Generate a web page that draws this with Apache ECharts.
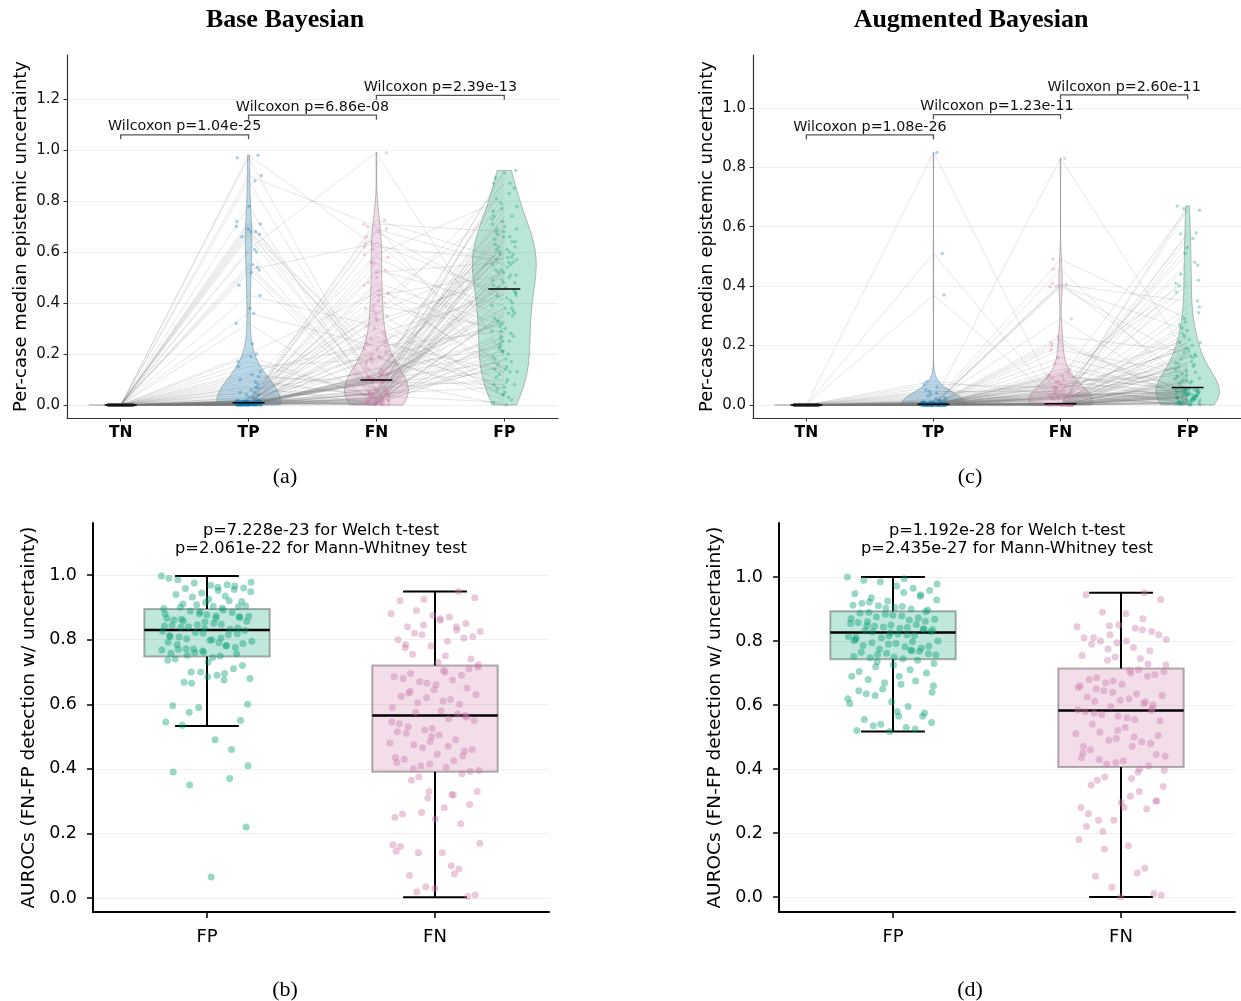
<!DOCTYPE html>
<html>
<head>
<meta charset="utf-8">
<script src="https://cdn.jsdelivr.net/npm/echarts@6.0.0/dist/echarts.min.js"></script>
<style>
  html, body { margin: 0; padding: 0; background: #fff; }
  #main { width: 1241px; height: 1001px; }
</style>
</head>
<body>
<div id="main"></div>
<script>
var topCats = ['TN', 'TP', 'FN', 'FP'];
var boxCats = ['FP', 'FN'];

// (a) Base Bayesian - per-case median epistemic uncertainty, index = case
var baseTN = [
  0,0,0,0,0,0,0,0,0,0,0,0,0,0,0,0,0,0,0,0,
  0,0,0,0,0,0,0,0,0,0,0,0,0,0,0,0,0,0,0,0,
  0,0,0,0,0,0,0,0,0,0,0,0,0,0,0,0,0,0,0,0,
  0,0,0,0,0,0,0,0,0,0,0,0,0,0,0,0,0,0,0,0,
  0,0,0,0,0,0,0,0,0,0,0,0,0,0,0,0,0,0,0,0,
  0,0,0,0,0,0,0,0,0,0,0,0,0,0,0,0,0,0,0,0
];
var baseTP = [
  0.002, 0.68, 0.010, 0.000, 0.12, 0.004, 0.98, 0.001, 0.015, 0.05, 0.003, 0.71,
  0.006, 0.000, 0.20, 0.012, 0.002, 0.55, 0.008, 0.001, 0.03, 0.018, 0.000, 0.005,
  0.90, 0.004, 0.011, 0.07, 0.002, 0.000, 0.36, 0.009, 0.014, 0.001, 0.10, 0.003,
  0.006, 0.70, 0.000, 0.016, 0.04, 0.002, 0.008, 0.61, 0.001, 0.013, 0.19, 0.005,
  0.000, 0.02, 0.97, 0.003, 0.007, 0.53, 0.011, 0.000, 0.09, 0.004, 0.017, 0.002,
  0.66, 0.001, 0.006, 0.15, 0.000, 0.012, 0.43, 0.003, 0.008, 0.025, 0.000, 0.72,
  0.005, 0.002, 0.11, 0.014, 0.001, 0.88, 0.009, 0.000, 0.06, 0.004, 0.54, 0.010,
  0.003, 0.017, 0.000, 0.67, 0.007, 0.05, 0.002, 0.013, 0.32, 0.001, 0.006, 0.08,
  0.69, 0.000, 0.004, 0.012, 0.13, 0.002, 0.009, 0.60, 0.001, 0.015, 0.03, 0.000,
  0.006, 0.78, 0.003, 0.07, 0.011, 0.000, 0.52, 0.005, 0.018, 0.002, 0.17, 0.008,
  0.001, 0.004, 0.38, 0.000, 0.014, 0.04, 0.007, 0.24, 0.002, 0.010, 0.000, 0.47,
  0.003, 0.016, 0.006, 0.68, 0.001, 0.012, 0.000, 0.005, 0.009, 0.002, 0.019, 0.007
];
var baseFN = [
  0.045, 0.21, 0.012, 0.48, 0.070, 0.003, 0.62, 0.095, 0.030, 0.058, 0.34, 0.17,
  0.008, 0.105, 0.44, 0.021, 0.11, 0.052, 0.001, 0.27, 0.14, 0.64, 0.125, 0.016,
  0.70, 0.026, 0.093, 0.005, 0.19, 0.048, 0.23, 0.36, 0.010, 0.12, 0.034, 0.58,
  0.060, 0.14, 0.002, 0.30, 0.042, 0.088, 0.018, 0.99, 0.52, 0.105, 0.025, 0.37,
  0.013, 0.45, 0.054, 0.25, 0.004, 0.635, 0.096, 0.10, 0.036, 0.22, 0.019, 0.090,
  0.050, 0.47, 0.007, 0.18, 0.118, 0.026, 0.31, 0.115, 0.044, 0.000, 0.68, 0.108,
  0.725, 0.031, 0.092, 0.015, 0.26, 0.056, 0.33, 0.009, 0.13, 0.39, 0.038, 0.098,
  0.022, 0.53, 0.066, 0.16, 0.003, 0.20, 0.046, 0.087, 0.011, 0.28, 0.102, 0.59,
  0.035, 0.11, 0.69, 0.006, 0.24, 0.091, 0.089, 0.017, 0.43, 0.040, 0.40, 0.028,
  0.145, 0.001, 0.185, 0.35, 0.049, 0.10, 0.014, 0.557, 0.71, 0.12, 0.032, 0.21,
  0.005, 0.66, 0.099, 0.17, 0.024, 0.41, 0.053, 0.094, 0.008, 0.22, 0.122, 0.56,
  0.042, 0.50, 0.019, 0.098, 0.61, 0.036, 0.19, 0.002, 0.27, 0.057, 0.38, 0.020
];
var baseFP = [
  0.52, 0.08, 0.66, 0.31, 0.44, 0.18, 0.57, 0.74, 0.25, 0.49, 0.03, 0.62,
  0.36, 0.91, 0.14, 0.55, 0.27, 0.69, 0.42, 0.06, 0.59, 0.21, 0.47, 0.83,
  0.12, 0.64, 0.38, 0.53, 0.02, 0.77, 0.29, 0.58, 0.16, 0.45, 0.68, 0.34,
  0.87, 0.23, 0.51, 0.09, 0.61, 0.40, 0.72, 0.19, 0.56, 0.33, 0.48, 0.05,
  0.63, 0.28, 0.79, 0.13, 0.54, 0.43, 0.37, 0.66, 0.01, 0.60, 0.24, 0.92,
  0.46, 0.11, 0.58, 0.32, 0.71, 0.20, 0.52, 0.85, 0.07, 0.65, 0.41, 0.26,
  0.57, 0.15, 0.69, 0.35, 0.04, 0.76, 0.50, 0.22, 0.62, 0.30, 0.89, 0.17,
  0.53, 0.39, 0.10, 0.67, 0.27, 0.48, 0.74, 0.13, 0.59, 0.43, 0.00, 0.81,
  0.64, 0.21, 0.55, 0.36, 0.46, 0.08, 0.70, 0.18, 0.51, 0.29, 0.78, 0.61,
  0.33, 0.56, 0.04, 0.87, 0.25, 0.60, 0.44, 0.14, 0.68, 0.38, 0.49, 0.73
];
var baseTests = ['Wilcoxon p=1.04e-25', 'Wilcoxon p=6.86e-08', 'Wilcoxon p=2.39e-13'];

// (c) Augmented Bayesian
var augTN = [
  0,0,0,0,0,0,0,0,0,0,0,0,0,0,0,0,0,0,0,0,
  0,0,0,0,0,0,0,0,0,0,0,0,0,0,0,0,0,0,0,0,
  0,0,0,0,0,0,0,0,0,0,0,0,0,0,0,0,0,0,0,0,
  0,0,0,0,0,0,0,0,0,0,0,0,0,0,0,0,0,0,0,0,
  0,0,0,0,0,0,0,0,0,0,0,0,0,0,0,0,0,0,0,0,
  0,0,0,0,0,0,0,0,0,0,0,0,0,0,0,0,0,0,0,0
];
var augTP = [
  0.002, 0.000, 0.006, 0.001, 0.85, 0.004, 0.000, 0.010, 0.003, 0.000, 0.045, 0.001,
  0.000, 0.005, 0.002, 0.000, 0.008, 0.001, 0.030, 0.000, 0.003, 0.012, 0.000, 0.002,
  0.004, 0.000, 0.001, 0.51, 0.000, 0.007, 0.002, 0.000, 0.015, 0.001, 0.000, 0.005,
  0.000, 0.003, 0.060, 0.000, 0.002, 0.009, 0.000, 0.001, 0.004, 0.000, 0.020, 0.000,
  0.006, 0.000, 0.002, 0.001, 0.000, 0.37, 0.003, 0.000, 0.011, 0.000, 0.001, 0.040,
  0.000, 0.002, 0.000, 0.005, 0.001, 0.000, 0.025, 0.003, 0.000, 0.002, 0.008, 0.000,
  0.001, 0.000, 0.004, 0.000, 0.070, 0.002, 0.000, 0.006, 0.001, 0.000, 0.003, 0.000,
  0.000, 0.014, 0.002, 0.000, 0.001, 0.005, 0.000, 0.035, 0.002, 0.000, 0.004, 0.001,
  0.003, 0.000, 0.001, 0.009, 0.000, 0.002, 0.050, 0.000, 0.001, 0.006, 0.000, 0.002,
  0.000, 0.004, 0.000, 0.018, 0.001, 0.000, 0.003, 0.080, 0.000, 0.002, 0.007, 0.000
];
var augFN = [
  0.002, 0.000, 0.035, 0.41, 0.001, 0.080, 0.002, 0.020, 0.14, 0.001, 0.045, 0.003,
  0.003, 0.060, 0.000, 0.001, 0.49, 0.028, 0.004, 0.10, 0.001, 0.038, 0.002, 0.000,
  0.022, 0.000, 0.23, 0.000, 0.050, 0.003, 0.002, 0.070, 0.002, 0.000, 0.40, 0.031,
  0.001, 0.090, 0.002, 0.026, 0.000, 0.83, 0.004, 0.042, 0.001, 0.185, 0.003, 0.055,
  0.000, 0.019, 0.457, 0.001, 0.033, 0.001, 0.065, 0.002, 0.29, 0.000, 0.024, 0.000,
  0.075, 0.002, 0.040, 0.000, 0.12, 0.003, 0.001, 0.405, 0.003, 0.048, 0.000, 0.018,
  0.002, 0.22, 0.001, 0.030, 0.058, 0.000, 0.000, 0.004, 0.11, 0.027, 0.002, 0.085,
  0.036, 0.000, 0.001, 0.398, 0.002, 0.044, 0.001, 0.068, 0.000, 0.021, 0.16, 0.003,
  0.000, 0.052, 0.002, 0.002, 0.21, 0.025, 0.000, 0.001, 0.095, 0.003, 0.105, 0.004,
  0.029, 0.001, 0.078, 0.000, 0.003, 0.20, 0.000, 0.034, 0.10, 0.002, 0.062, 0.000
];
var augFP = [
  0.030, 0.67, 0.012, 0.085, 0.045, 0.22, 0.004, 0.11, 0.038, 0.41, 0.020, 0.26,
  0.052, 0.008, 0.14, 0.026, 0.29, 0.001, 0.075, 0.047, 0.58, 0.016, 0.098, 0.034,
  0.24, 0.040, 0.18, 0.010, 0.48, 0.055, 0.12, 0.003, 0.078, 0.029, 0.25, 0.044,
  0.018, 0.66, 0.090, 0.036, 0.006, 0.165, 0.050, 0.38, 0.022, 0.105, 0.041, 0.19,
  0.013, 0.135, 0.048, 0.21, 0.000, 0.44, 0.032, 0.082, 0.024, 0.56, 0.058, 0.009,
  0.043, 0.27, 0.019, 0.28, 0.053, 0.145, 0.002, 0.35, 0.037, 0.095, 0.027, 0.175,
  0.655, 0.015, 0.060, 0.046, 0.115, 0.005, 0.20, 0.031, 0.42, 0.054, 0.072, 0.021,
  0.039, 0.088, 0.011, 0.155, 0.049, 0.53, 0.025, 0.13, 0.007, 0.33, 0.056, 0.21,
  0.028, 0.19, 0.042, 0.080, 0.014, 0.47, 0.035, 0.125, 0.051, 0.23, 0.017, 0.165,
  0.575, 0.033, 0.10, 0.023, 0.16, 0.044, 0.31, 0.001, 0.40, 0.17, 0.51, 0.14
];
var augTests = ['Wilcoxon p=1.08e-26', 'Wilcoxon p=1.23e-11', 'Wilcoxon p=2.60e-11'];

// (b) Base Bayesian - AUROCs (FN-FP detection w/ uncertainty)
var baseAurocFP = [
  0.997, 0.962, 0.910, 0.870, 0.835, 0.812, 0.780, 0.700, 0.600, 0.745,
  0.985, 0.955, 0.880, 0.842, 0.805, 0.772, 0.720, 0.685, 0.595, 0.920,
  0.975, 0.948, 0.866, 0.838, 0.818, 0.765, 0.736, 0.675, 0.575, 0.905,
  0.968, 0.940, 0.884, 0.846, 0.826, 0.790, 0.668, 0.550, 0.915, 0.758,
  0.970, 0.932, 0.872, 0.851, 0.808, 0.776, 0.700, 0.545, 0.898, 0.752,
  0.960, 0.925, 0.861, 0.832, 0.822, 0.795, 0.690, 0.535, 0.902, 0.762,
  0.990, 0.935, 0.889, 0.857, 0.800, 0.785, 0.710, 0.590, 0.896, 0.749,
  0.958, 0.918, 0.877, 0.844, 0.815, 0.771, 0.680, 0.490, 0.900, 0.756,
  0.944, 0.866, 0.892, 0.840, 0.828, 0.798, 0.740, 0.460, 0.908, 0.768,
  0.952, 0.858, 0.869, 0.855, 0.810, 0.782, 0.665, 0.410, 0.903, 0.770,
  0.966, 0.886, 0.880, 0.848, 0.803, 0.788, 0.730, 0.390, 0.370, 0.760,
  0.978, 0.874, 0.863, 0.836, 0.820, 0.792, 0.695, 0.350, 0.220, 0.065
];
var baseAurocFN = [
  0.949, 0.845, 0.170, 0.700, 0.640, 0.560, 0.500, 0.420, 0.320, 0.140,
  0.930, 0.860, 0.775, 0.690, 0.620, 0.545, 0.470, 0.400, 0.290, 0.030,
  0.920, 0.840, 0.265, 0.715, 0.610, 0.530, 0.455, 0.415, 0.250, 0.100,
  0.890, 0.810, 0.730, 0.680, 0.600, 0.520, 0.480, 0.405, 0.365, 0.005,
  0.875, 0.800, 0.075, 0.670, 0.630, 0.580, 0.510, 0.440, 0.310, 0.165,
  0.870, 0.820, 0.740, 0.660, 0.625, 0.570, 0.465, 0.395, 0.280, 0.070,
  0.850, 0.780, 0.145, 0.675, 0.605, 0.550, 0.505, 0.430, 0.230, 0.035,
  0.880, 0.795, 0.755, 0.710, 0.645, 0.540, 0.490, 0.410, 0.330, 0.140,
  0.840, 0.805, 0.330, 0.685, 0.615, 0.575, 0.460, 0.445, 0.260, 0.090,
  0.925, 0.825, 0.750, 0.695, 0.650, 0.525, 0.515, 0.425, 0.375, 0.010,
  0.865, 0.785, 0.385, 0.665, 0.590, 0.555, 0.475, 0.392, 0.245, 0.160,
  0.830, 0.815, 0.722, 0.705, 0.635, 0.565, 0.485, 0.435, 0.320, 0.020
];
// box stats: [lower whisker, Q1, median, Q3, upper whisker]
var baseBoxFP = [0.533, 0.748, 0.830, 0.895, 0.997];
var baseBoxFN = [0.003, 0.391, 0.565, 0.720, 0.949];
var baseBoxText = ['p=7.228e-23 for Welch t-test', 'p=2.061e-22 for Mann-Whitney test'];

// (d) Augmented Bayesian - AUROCs
var augAurocFP = [
  1.000, 0.952, 0.890, 0.862, 0.826, 0.805, 0.770, 0.735, 0.660, 0.565,
  0.990, 0.940, 0.884, 0.855, 0.820, 0.795, 0.760, 0.725, 0.645, 0.525,
  0.985, 0.928, 0.878, 0.848, 0.838, 0.790, 0.752, 0.710, 0.630, 0.545,
  0.972, 0.918, 0.872, 0.844, 0.814, 0.782, 0.748, 0.700, 0.610, 0.520,
  0.965, 0.910, 0.868, 0.840, 0.832, 0.778, 0.762, 0.690, 0.595, 0.535,
  0.958, 0.905, 0.888, 0.852, 0.810, 0.800, 0.745, 0.680, 0.575, 0.517,
  0.948, 0.900, 0.875, 0.835, 0.822, 0.786, 0.768, 0.670, 0.605, 0.530,
  0.935, 0.897, 0.881, 0.858, 0.817, 0.775, 0.756, 0.665, 0.635, 0.565,
  0.925, 0.912, 0.866, 0.846, 0.830, 0.792, 0.765, 0.740, 0.650, 0.620,
  0.995, 0.922, 0.892, 0.850, 0.812, 0.798, 0.758, 0.730, 0.690, 0.555,
  0.945, 0.903, 0.870, 0.842, 0.828, 0.784, 0.750, 0.705, 0.675, 0.540,
  0.978, 0.908, 0.860, 0.837, 0.816, 0.802, 0.772, 0.720, 0.640, 0.580
];
var augAurocFN = [
  0.951, 0.848, 0.725, 0.700, 0.650, 0.590, 0.520, 0.450, 0.330, 0.150,
  0.930, 0.885, 0.350, 0.690, 0.640, 0.585, 0.500, 0.430, 0.300, 0.000,
  0.945, 0.835, 0.740, 0.705, 0.620, 0.575, 0.480, 0.420, 0.280, 0.075,
  0.890, 0.820, 0.280, 0.680, 0.610, 0.595, 0.510, 0.470, 0.365, 0.010,
  0.850, 0.810, 0.745, 0.670, 0.630, 0.560, 0.540, 0.410, 0.240, 0.180,
  0.840, 0.800, 0.300, 0.665, 0.625, 0.605, 0.490, 0.440, 0.315, 0.065,
  0.830, 0.795, 0.755, 0.710, 0.645, 0.550, 0.530, 0.460, 0.275, 0.030,
  0.845, 0.780, 0.240, 0.695, 0.615, 0.580, 0.485, 0.415, 0.345, 0.160,
  0.810, 0.770, 0.750, 0.660, 0.635, 0.570, 0.505, 0.425, 0.260, 0.090,
  0.820, 0.805, 0.370, 0.685, 0.600, 0.565, 0.470, 0.400, 0.375, 0.005,
  0.800, 0.790, 0.728, 0.675, 0.655, 0.555, 0.515, 0.445, 0.295, 0.220,
  0.870, 0.775, 0.395, 0.708, 0.612, 0.583, 0.495, 0.435, 0.390, 0.205
];
var augBoxFP = [0.517, 0.743, 0.827, 0.893, 1.000];
var augBoxFN = [0.000, 0.406, 0.583, 0.714, 0.951];
var augBoxText = ['p=1.192e-28 for Welch t-test', 'p=2.435e-27 for Mann-Whitney test'];

// ---------- styling / layout ----------
var topColors = ['#555555', '#0072B2', '#CC79A7', '#009E73'];
var boxColors = ['#009E73', '#CC79A7'];
var FONT = 'DejaVu Sans';
var SERIF = 'Liberation Serif';

function rgba(hex, a) {
  var n = parseInt(hex.slice(1), 16);
  return 'rgba(' + (n >> 16) + ',' + ((n >> 8) & 255) + ',' + (n & 255) + ',' + a + ')';
}
function median(v) {
  var s = v.slice().sort(function (a, b) { return a - b; });
  var m = s.length >> 1;
  return s.length % 2 ? s[m] : (s[m - 1] + s[m]) / 2;
}
// deterministic strip jitter in [-0.5, 0.5)
function jit(i) { return ((i * 0.6180339887) % 1) - 0.5; }

// gaussian KDE (scott bandwidth), cut at data range, scaled to max = 1
function kdeProfile(vals) {
  var n = vals.length;
  var mean = vals.reduce(function (a, b) { return a + b; }, 0) / n;
  var sd = Math.sqrt(vals.reduce(function (a, b) { return a + (b - mean) * (b - mean); }, 0) / (n - 1));
  if (sd === 0) return null;
  var bw = sd * Math.pow(n, -0.2);
  var lo = Math.min.apply(null, vals), hi = Math.max.apply(null, vals);
  var out = [], dmax = 0;
  for (var k = 0; k <= 120; k++) {
    var y = lo + (hi - lo) * k / 120, d = 0;
    for (var i = 0; i < n; i++) { var z = (y - vals[i]) / bw; d += Math.exp(-0.5 * z * z); }
    out.push([y, d]);
    if (d > dmax) dmax = d;
  }
  return out.map(function (p) { return [p[0], p[1] / dmax]; });
}

var grids = [
  { left: 67, top: 55, width: 491, height: 363 },
  { left: 753, top: 55, width: 488, height: 363 },
  { left: 93, top: 523, width: 456, height: 389 },
  { left: 779, top: 523, width: 456, height: 389 }
];
var yRanges = [[-0.051, 1.373], [-0.044, 1.178], [-0.043, 1.161], [-0.047, 1.169]];
var topTicks = [[0, 0.2, 0.4, 0.6, 0.8, 1.0, 1.2], [0, 0.2, 0.4, 0.6, 0.8, 1.0]];
var botTicks = [0, 0.2, 0.4, 0.6, 0.8, 1.0];

var xAxes = [], yAxes = [], series = [];

function topPanel(g, groups, tests, levels) {
  xAxes.push({
    type: 'value', gridIndex: g, min: -0.42, max: 3.42,
    axisLine: { onZero: false, lineStyle: { color: '#333', width: 1.2 } },
    axisTick: { customValues: [0, 1, 2, 3], length: 3.5, lineStyle: { color: '#333' } },
    axisLabel: { customValues: [0, 1, 2, 3], margin: 7, fontFamily: FONT, fontSize: 15.5, fontWeight: 'bold', color: '#000',
      formatter: function (v) { return topCats[Math.round(v)]; } },
    splitLine: { show: false }
  });
  yAxes.push({
    type: 'value', gridIndex: g, min: yRanges[g][0], max: yRanges[g][1],
    name: 'Per-case median epistemic uncertainty', nameLocation: 'middle', nameGap: 37,
    nameTextStyle: { fontFamily: FONT, fontSize: 18, color: '#000' },
    axisLine: { show: true, onZero: false, lineStyle: { color: '#333', width: 1.2 } },
    axisTick: { show: true, customValues: topTicks[g], length: 3.5, lineStyle: { color: '#333' } },
    axisLabel: { customValues: topTicks[g], margin: 7, fontFamily: FONT, fontSize: 15, color: '#111',
      formatter: function (v) { return v.toFixed(1); } },
    splitLine: { show: true, lineStyle: { color: '#efefef', width: 1 } }
  });
  var profiles = groups.map(kdeProfile);

  // violins
  series.push({
    type: 'custom', xAxisIndex: g, yAxisIndex: g, silent: true, z: 1,
    data: [[0, 0], [1, 0], [2, 0], [3, 0]],
    renderItem: function (params, api) {
      var k = params.dataIndex, prof = profiles[k];
      if (!prof) {
        var a = api.coord([k - 0.25, groups[k][0]]), b = api.coord([k + 0.25, groups[k][0]]);
        return { type: 'line', shape: { x1: a[0], y1: a[1], x2: b[0], y2: b[1] },
          style: { stroke: 'rgba(90,90,90,0.6)', lineWidth: 1 } };
      }
      var pts = [];
      for (var j = 0; j < prof.length; j++) pts.push(api.coord([k + 0.25 * prof[j][1], prof[j][0]]));
      for (j = prof.length - 1; j >= 0; j--) pts.push(api.coord([k - 0.25 * prof[j][1], prof[j][0]]));
      return { type: 'polygon', shape: { points: pts },
        style: { fill: rgba(topColors[k], 0.27), stroke: 'rgba(80,80,80,0.45)', lineWidth: 0.8 } };
    }
  });

  // paired per-case lines
  var cases = groups[0].map(function (_, i) { return [groups[0][i], groups[1][i], groups[2][i], groups[3][i]]; });
  series.push({
    type: 'custom', xAxisIndex: g, yAxisIndex: g, silent: true, z: 2,
    data: cases,
    renderItem: function (params, api) {
      var pts = [0, 1, 2, 3].map(function (k) { return api.coord([k, api.value(k)]); });
      return { type: 'polyline', shape: { points: pts },
        style: { stroke: 'rgba(120,120,120,0.24)', lineWidth: 0.8, fill: null } };
    }
  });

  // strip points
  groups.forEach(function (vals, k) {
    series.push({
      type: 'scatter', xAxisIndex: g, yAxisIndex: g, silent: true, z: 3,
      symbolSize: 3.5,
      itemStyle: { color: rgba(topColors[k], 0.4) },
      data: vals.map(function (v, i) { return [k + 0.2 * jit(i + 31 * k), v]; })
    });
  });

  // medians
  var meds = groups.map(median);
  series.push({
    type: 'custom', xAxisIndex: g, yAxisIndex: g, silent: true, z: 4,
    data: meds.map(function (m, k) { return [k, m]; }),
    renderItem: function (params, api) {
      var k = api.value(0), m = api.value(1);
      var a = api.coord([k - 0.125, m]), b = api.coord([k + 0.125, m]);
      return { type: 'line', shape: { x1: a[0], y1: a[1], x2: b[0], y2: b[1] },
        style: { stroke: '#000', lineWidth: 1.5 } };
    }
  });

  // Wilcoxon brackets
  series.push({
    type: 'custom', xAxisIndex: g, yAxisIndex: g, silent: true, z: 5,
    data: levels.map(function (l, j) { return [j, l]; }),
    renderItem: function (params, api) {
      var j = params.dataIndex, y = levels[j];
      var a = api.coord([j, y]), b = api.coord([j + 1, y]);
      return { type: 'group', children: [
        { type: 'polyline', shape: { points: [[a[0], a[1] + 4.5], [a[0], a[1]], [b[0], b[1]], [b[0], b[1] + 4.5]] },
          style: { stroke: '#555', lineWidth: 1.3, fill: null } },
        { type: 'text', x: (a[0] + b[0]) / 2, y: a[1] - 1,
          style: { text: tests[j], align: 'center', verticalAlign: 'bottom', fontFamily: FONT, fontSize: 14.3, fill: '#111' } }
      ] };
    }
  });
}

function boxPanel(g, groups, stats) {
  xAxes.push({
    type: 'value', gridIndex: g, min: -0.5, max: 1.5,
    axisLine: { onZero: false, lineStyle: { color: '#000', width: 2 } },
    axisTick: { customValues: [0, 1], length: 6, lineStyle: { color: '#000', width: 1.5 } },
    axisLabel: { customValues: [0, 1], margin: 16, fontFamily: FONT, fontSize: 18, color: '#000',
      formatter: function (v) { return boxCats[Math.round(v)]; } },
    splitLine: { show: false }
  });
  yAxes.push({
    type: 'value', gridIndex: g, min: yRanges[g][0], max: yRanges[g][1],
    name: 'AUROCs (FN-FP detection w/ uncertainty)', nameLocation: 'middle', nameGap: 54,
    nameTextStyle: { fontFamily: FONT, fontSize: 18.5, color: '#000' },
    axisLine: { show: true, onZero: false, lineStyle: { color: '#000', width: 2 } },
    axisTick: { show: true, customValues: botTicks, length: 6, lineStyle: { color: '#000', width: 1.5 } },
    axisLabel: { customValues: botTicks, margin: 16, fontFamily: FONT, fontSize: 17.5, color: '#000',
      formatter: function (v) { return v.toFixed(1); } },
    splitLine: { show: true, lineStyle: { color: '#efefef', width: 1 } }
  });

  series.push({
    type: 'custom', xAxisIndex: g, yAxisIndex: g, silent: true, z: 1,
    data: stats.map(function (s, k) { return [k, s[2]]; }),
    renderItem: function (params, api) {
      var k = params.dataIndex, s = stats[k];
      var c = function (x, y) { return api.coord([x, y]); };
      var ln = function (p, q, w) {
        return { type: 'line', shape: { x1: p[0], y1: p[1], x2: q[0], y2: q[1] }, style: { stroke: '#000', lineWidth: w } };
      };
      var tl = c(k - 0.275, s[3]), br = c(k + 0.275, s[1]);
      return { type: 'group', children: [
        { type: 'rect', shape: { x: tl[0], y: tl[1], width: br[0] - tl[0], height: br[1] - tl[1] },
          style: { fill: rgba(boxColors[k], 0.25), stroke: 'rgba(0,0,0,0.3)', lineWidth: 2 } },
        ln(c(k, s[0]), c(k, s[1]), 2),
        ln(c(k, s[3]), c(k, s[4]), 2),
        ln(c(k - 0.14, s[0]), c(k + 0.14, s[0]), 2),
        ln(c(k - 0.14, s[4]), c(k + 0.14, s[4]), 2),
        ln(c(k - 0.275, s[2]), c(k + 0.275, s[2]), 2.5)
      ] };
    }
  });
  groups.forEach(function (vals, k) {
    series.push({
      type: 'scatter', xAxisIndex: g, yAxisIndex: g, silent: true, z: 2,
      symbolSize: 7,
      itemStyle: { color: rgba(boxColors[k], 0.5) },
      data: vals.map(function (v, i) { return [k + 0.4 * jit(i + 53 * k), v]; })
    });
  });
}

topPanel(0, [baseTN, baseTP, baseFN, baseFP], baseTests, [1.06, 1.137, 1.215]);
topPanel(1, [augTN, augTP, augFN, augFP], augTests, [0.909, 0.977, 1.044]);
boxPanel(2, [baseAurocFP, baseAurocFN], [baseBoxFP, baseBoxFN]);
boxPanel(3, [augAurocFP, augAurocFN], [augBoxFP, augBoxFN]);

function label(text, x, y, font) {
  return { type: 'text', x: x, y: y, silent: true,
    style: { text: text, align: 'center', verticalAlign: 'middle', font: font, fill: '#000' } };
}
var graphics = [
  label('Base Bayesian', 285, 20, 'bold 26px "' + SERIF + '"'),
  label('Augmented Bayesian', 971, 20, 'bold 26px "' + SERIF + '"'),
  label('(a)', 285, 477, '22px "' + SERIF + '"'),
  label('(c)', 970, 477, '22px "' + SERIF + '"'),
  label('(b)', 285, 990, '22px "' + SERIF + '"'),
  label('(d)', 970, 990, '22px "' + SERIF + '"'),
  label(baseBoxText[0], 321, 531, '16.2px "' + FONT + '"'),
  label(baseBoxText[1], 321, 549, '16.2px "' + FONT + '"'),
  label(augBoxText[0], 1007, 531, '16.2px "' + FONT + '"'),
  label(augBoxText[1], 1007, 549, '16.2px "' + FONT + '"')
];

var chart = echarts.init(document.getElementById('main'));
chart.setOption({
  animation: false,
  backgroundColor: '#fff',
  grid: grids.map(function (g) { return Object.assign({ outerBoundsMode: 'none' }, g); }),
  xAxis: xAxes,
  yAxis: yAxes,
  series: series,
  graphic: graphics
});
</script>
</body>
</html>
